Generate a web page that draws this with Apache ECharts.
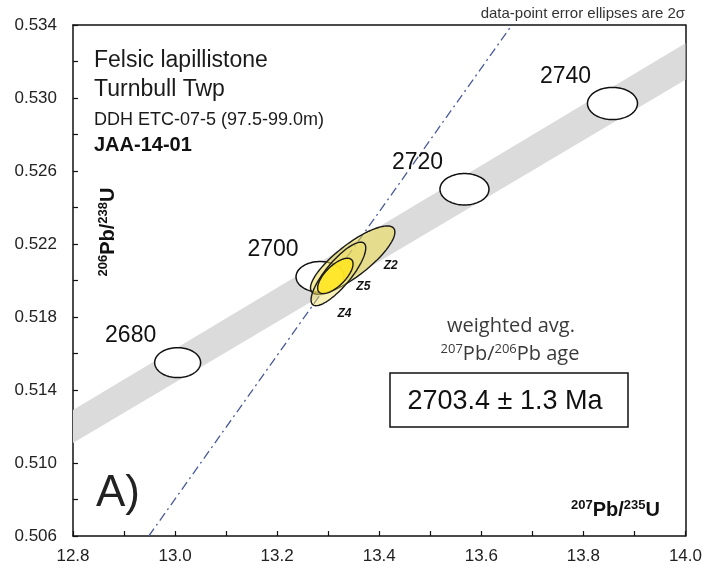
<!DOCTYPE html>
<html>
<head>
<meta charset="utf-8">
<script src="https://cdn.jsdelivr.net/npm/echarts@6/dist/echarts.min.js"></script>
<style>
html,body{margin:0;padding:0;background:#fff;}
#chart{width:705px;height:571px;}
</style>
</head>
<body>
<div id="chart"></div>
<script>
// ---- data ----
const xTicks = [12.8, 13.0, 13.2, 13.4, 13.6, 13.8, 14.0];
const yTicks = [0.506, 0.510, 0.514, 0.518, 0.522, 0.526, 0.530, 0.534];

// concordia band (decay-constant uncertainty) edges
const bandX = [12.8, 14.0];
const bandUpper = [0.5129, 0.5330];
const bandLower = [0.5111, 0.5310];

// concordia age markers
const ageLabels = ['2680', '2700', '2720', '2740'];
const ageX = [13.005, 13.284, 13.567, 13.857];
const ageY = [0.5155, 0.5202, 0.5250, 0.5297];
const ageErrX = [0.045, 0.047, 0.048, 0.049];
const ageErrY = [0.00082, 0.00084, 0.00086, 0.00088];

// zircon analyses (2 sigma error ellipses)
const zircons = ['Z2', 'Z4', 'Z5'];
const zX = [13.348, 13.320, 13.314];
const zY = [0.52112, 0.52036, 0.52025];
const zSx = [0.0827, 0.0536, 0.0347];
const zSy = [0.00187, 0.00174, 0.00097];
const zRho = [0.818, 0.818, 0.682];

// discordia / reference line
const discX = [12.9485, 13.660];
const discY = [0.506, 0.534];

// ---- styles ----
const zStyle = {
  Z2: { fill: 'rgba(238,220,70,0.52)', dx: 38, dy: 6 },
  Z4: { fill: 'rgba(242,224,90,0.45)', dx: 6, dy: 40 },
  Z5: { fill: 'rgba(255,230,30,0.85)', dx: 28, dy: 11 }
};
const ageLabelOffset = [-47, -27];

function ellipsePoints(api, cx, cy, sx, sy, rho) {
  const pts = [];
  const k = Math.sqrt(1 - rho * rho);
  for (let i = 0; i < 96; i++) {
    const t = i / 96 * Math.PI * 2;
    const x = cx + sx * Math.cos(t);
    const y = cy + sy * (rho * Math.cos(t) + k * Math.sin(t));
    pts.push(api.coord([x, y]));
  }
  return pts;
}

const chart = echarts.init(document.getElementById('chart'), null, { renderer: 'canvas' });

const axisFont = { fontFamily: 'Liberation Sans', fontSize: 17, color: '#222' };

const option = {
  animation: false,
  backgroundColor: '#fff',
  grid: { left: 73, right: 18, top: 25, bottom: 35, containLabel: false },
  xAxis: [{
    type: 'value', min: 12.8, max: 14.0, interval: 0.1,
    axisLine: { show: true, onZero: false, lineStyle: { color: '#111', width: 1.5 } },
    axisTick: { show: true, inside: true, length: 5, lineStyle: { color: '#111', width: 1.2 } },
    splitLine: { show: false },
    axisLabel: Object.assign({
      margin: 12,
      formatter: function (v) {
        return xTicks.some(t => Math.abs(t - v) < 1e-6) ? v.toFixed(1) : '';
      }
    }, axisFont)
  }, {
    type: 'value', min: 12.8, max: 14.0, position: 'top',
    axisLine: { show: true, onZero: false, lineStyle: { color: '#111', width: 1.5 } },
    axisTick: { show: false }, axisLabel: { show: false }, splitLine: { show: false }
  }],
  yAxis: [{
    type: 'value', min: 0.506, max: 0.534, interval: 0.002,
    axisLine: { show: true, onZero: false, lineStyle: { color: '#111', width: 1.5 } },
    axisTick: { show: true, inside: true, length: 5, lineStyle: { color: '#111', width: 1.2 } },
    splitLine: { show: false },
    axisLabel: Object.assign({
      margin: 16,
      formatter: function (v) {
        return yTicks.some(t => Math.abs(t - v) < 1e-7) ? v.toFixed(3) : '';
      }
    }, axisFont)
  }, {
    type: 'value', min: 0.506, max: 0.534, position: 'right',
    axisLine: { show: true, onZero: false, lineStyle: { color: '#111', width: 1.5 } },
    axisTick: { show: false }, axisLabel: { show: false }, splitLine: { show: false }
  }],
  series: [
    {
      type: 'custom', name: 'band', silent: true, z: 1,
      data: [[bandX[0], bandUpper[0]]],
      renderItem: function (params, api) {
        const pts = [];
        for (let i = 0; i < bandX.length; i++) pts.push(api.coord([bandX[i], bandUpper[i]]));
        for (let i = bandX.length - 1; i >= 0; i--) pts.push(api.coord([bandX[i], bandLower[i]]));
        return { type: 'polygon', shape: { points: pts }, style: { fill: '#dbdbdb', stroke: null } };
      }
    },
    {
      type: 'line', name: 'discordia', silent: true, z: 2,
      data: discX.map((x, i) => [x, discY[i]]),
      symbol: 'none',
      lineStyle: { color: '#4a5a98', width: 1.3, type: [9, 4, 2, 4] }
    },
    {
      type: 'custom', name: 'ages', silent: true, z: 3,
      data: ageLabels.map((l, i) => [ageX[i], ageY[i], ageErrX[i], ageErrY[i]]),
      renderItem: function (params, api) {
        const i = params.dataIndex;
        const pts = ellipsePoints(api, api.value(0), api.value(1), api.value(2), api.value(3), 0);
        const c = api.coord([api.value(0), api.value(1)]);
        return {
          type: 'group',
          children: [
            { type: 'polygon', shape: { points: pts }, style: { fill: '#fff', stroke: '#111', lineWidth: 1.5 } },
            { type: 'text', x: c[0] + ageLabelOffset[0], y: c[1] + ageLabelOffset[1],
              style: { text: ageLabels[i], fill: '#111', font: '23px "Liberation Sans"', align: 'center', verticalAlign: 'middle', textAlign: 'center', textVerticalAlign: 'middle' } }
          ]
        };
      }
    },
    {
      type: 'custom', name: 'zircons', silent: true, z: 4,
      data: zircons.map((n, i) => [zX[i], zY[i], zSx[i], zSy[i], zRho[i]]),
      renderItem: function (params, api) {
        const i = params.dataIndex;
        const s = zStyle[zircons[i]];
        const pts = ellipsePoints(api, api.value(0), api.value(1), api.value(2), api.value(3), api.value(4));
        const c = api.coord([api.value(0), api.value(1)]);
        return {
          type: 'group',
          children: [
            { type: 'polygon', shape: { points: pts }, style: { fill: s.fill, stroke: '#1a1a1a', lineWidth: 1.4 } },
            { type: 'text', x: c[0] + s.dx, y: c[1] + s.dy,
              style: { text: zircons[i], fill: '#111', font: 'italic bold 12px "Liberation Sans"', align: 'center', verticalAlign: 'middle', textAlign: 'center', textVerticalAlign: 'middle' } }
          ]
        };
      }
    }
  ],
  graphic: [
    { type: 'text', x: 94, y: 60.5, style: { text: 'Felsic lapillistone', fill: '#1a1a1a', font: '23px "Liberation Sans"', verticalAlign: 'middle', textVerticalAlign: 'middle' } },
    { type: 'text', x: 94, y: 89.5, style: { text: 'Turnbull Twp', fill: '#1a1a1a', font: '23px "Liberation Sans"', verticalAlign: 'middle', textVerticalAlign: 'middle' } },
    { type: 'text', x: 94, y: 120.5, style: { text: 'DDH ETC-07-5 (97.5-99.0m)', fill: '#1a1a1a', font: '18px "Liberation Sans"', verticalAlign: 'middle', textVerticalAlign: 'middle' } },
    { type: 'text', x: 94, y: 145, style: { text: 'JAA-14-01', fill: '#111', font: 'bold 20px "Liberation Sans"', verticalAlign: 'middle', textVerticalAlign: 'middle' } },
    { type: 'text', x: 96, y: 494, style: { text: 'A)', fill: '#222', font: '44px "Liberation Sans"', verticalAlign: 'middle', textVerticalAlign: 'middle' } },
    { type: 'text', x: 685, y: 14, style: { text: 'data-point error ellipses are 2σ', fill: '#333', font: '15px "Liberation Sans"', align: 'right', textAlign: 'right', verticalAlign: 'middle', textVerticalAlign: 'middle' } },
    { type: 'text', x: 660, y: 510, style: {
        text: '{s|207}{b|Pb/}{s|235}{b|U}', align: 'right', textAlign: 'right', verticalAlign: 'middle', textVerticalAlign: 'middle',
        rich: {
          b: { fontFamily: 'Liberation Sans', fontWeight: 'bold', fontSize: 20, lineHeight: 22, fill: '#111', color: '#111' },
          s: { fontFamily: 'Liberation Sans', fontWeight: 'bold', fontSize: 13, lineHeight: 13, verticalAlign: 'top', fill: '#111', color: '#111' }
        } } },
    { type: 'text', x: 108, y: 232, rotation: Math.PI / 2, style: {
        text: '{s|206}{b|Pb/}{s|238}{b|U}', align: 'center', textAlign: 'center', verticalAlign: 'middle', textVerticalAlign: 'middle',
        rich: {
          b: { fontFamily: 'Liberation Sans', fontWeight: 'bold', fontSize: 20, lineHeight: 22, fill: '#111', color: '#111' },
          s: { fontFamily: 'Liberation Sans', fontWeight: 'bold', fontSize: 13, lineHeight: 13, verticalAlign: 'top', fill: '#111', color: '#111' }
        } } },
    { type: 'text', x: 511, y: 326, style: { text: 'weighted avg.', fill: '#3a3a3a', font: '20px "Open Sans"', align: 'center', textAlign: 'center', verticalAlign: 'middle', textVerticalAlign: 'middle' } },
    { type: 'text', x: 510, y: 354, style: {
        text: '{s|207}{b|Pb/}{s|206}{b|Pb age}', align: 'center', textAlign: 'center', verticalAlign: 'middle', textVerticalAlign: 'middle',
        rich: {
          b: { fontFamily: 'Open Sans', fontSize: 20, lineHeight: 22, fill: '#3a3a3a', color: '#3a3a3a' },
          s: { fontFamily: 'Open Sans', fontSize: 13, lineHeight: 13, verticalAlign: 'top', fill: '#3a3a3a', color: '#3a3a3a' }
        } } },
    { type: 'rect', shape: { x: 390, y: 373, width: 238, height: 54 }, style: { fill: '#fff', stroke: '#111', lineWidth: 1.5 }, z: 10 },
    { type: 'text', x: 505, y: 402, z: 11, style: { text: '2703.4 ± 1.3 Ma', fill: '#111', font: '27px "Liberation Sans"', align: 'center', textAlign: 'center', verticalAlign: 'middle', textVerticalAlign: 'middle' } }
  ]
};

chart.setOption(option);
</script>
</body>
</html>
